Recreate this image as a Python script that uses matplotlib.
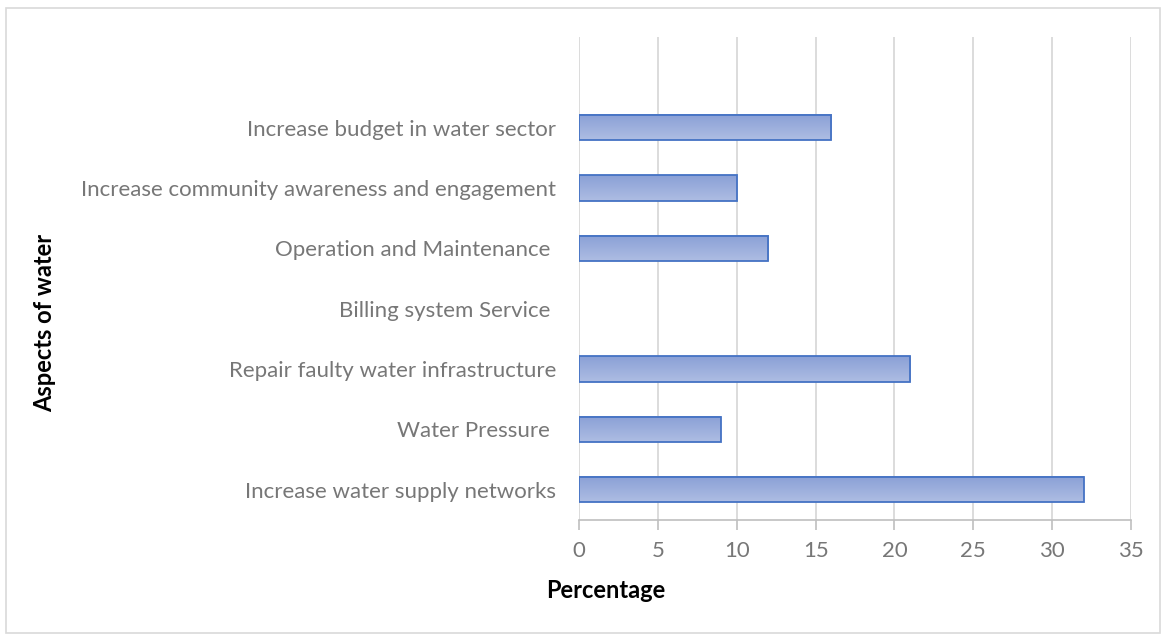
import matplotlib
matplotlib.use("Agg")
import matplotlib.pyplot as plt
import numpy as np
from matplotlib.patches import Rectangle
from matplotlib.colors import LinearSegmentedColormap

categories = [
    "Increase water supply networks",
    "Water Pressure ",
    "Repair faulty water infrastructure",
    "Billing system Service ",
    "Operation and Maintenance ",
    "Increase community awareness and engagement",
    "Increase budget in water sector",
]
values = [32, 9, 21, 0, 12, 10, 16]
xticks = [0, 5, 10, 15, 20, 25, 30, 35]

plt.rcParams["font.family"] = ["Lato", "DejaVu Sans"]

fig = plt.figure(figsize=(11.66, 6.38), dpi=100)
ax = fig.add_axes([0.4966, 0.185, 0.4734, 0.757])

# outer chart border
fig.patches.append(Rectangle((0.005, 0.008), 0.99, 0.98, transform=fig.transFigure,
                             fill=False, edgecolor="#d9d9d9", linewidth=1.2))

bar_h = 0.42
grad = np.linspace(0, 1, 100).reshape(-1, 1)
cmap = LinearSegmentedColormap.from_list("barfill", ["#aebde3", "#8aa0d6"])

ypos = np.arange(len(categories))
bars = ax.barh(ypos, values, height=bar_h, color="none", edgecolor="#4472c4",
               linewidth=1.3, zorder=3)
for b, v in zip(bars, values):
    if v <= 0:
        b.set_visible(False)
        continue
    x0, y0 = b.get_x(), b.get_y()
    w, h = b.get_width(), b.get_height()
    ax.imshow(grad, cmap=cmap, aspect="auto", extent=(x0, x0 + w, y0 + h, y0),
              origin="upper", zorder=2, interpolation="bicubic")

ax.set_xlim(0, 35)
ax.set_ylim(-0.5, len(categories) + 0.5)
ax.set_xticks(xticks)
ax.set_yticks(ypos)
ax.set_yticklabels(categories)
ax.grid(axis="x", color="#d9d9d9", linewidth=1.3, zorder=0)
ax.set_axisbelow(True)

for s in ["top", "right", "left"]:
    ax.spines[s].set_visible(False)
ax.spines["bottom"].set_color("#bfbfbf")
ax.spines["bottom"].set_linewidth(1.2)

ax.tick_params(axis="x", colors="#bfbfbf", labelcolor="#777777", labelsize=16,
               length=7, width=1.2, pad=8)
ax.tick_params(axis="y", length=0, labelcolor="#777777", labelsize=16, pad=16.5)

fig.text(606 / 1166, 1 - 591 / 638, "Percentage", fontsize=17, fontweight="bold",
         color="black", ha="center", va="center")
fig.text(45 / 1166, 1 - 323 / 638, "Aspects of water", rotation=90, fontsize=17,
         fontweight="bold", color="black", ha="center", va="center")

fig.savefig("out.png", dpi=100, facecolor="white")
